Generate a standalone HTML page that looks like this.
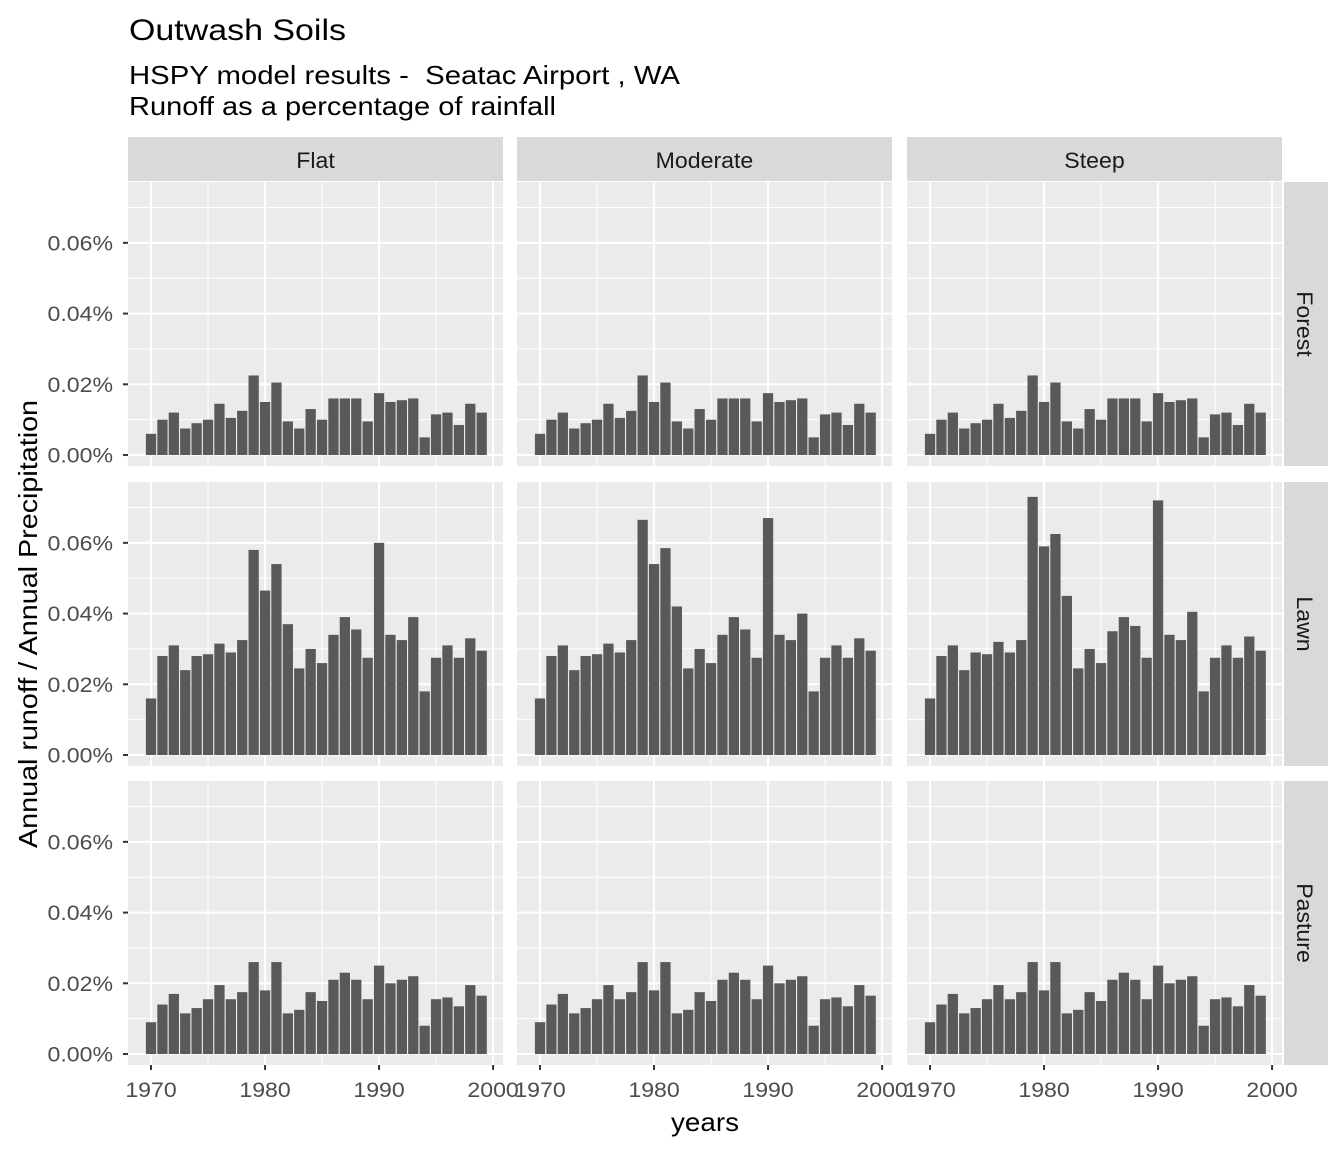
<!DOCTYPE html>
<html><head><meta charset="utf-8"><style>
body{margin:0;background:#fff;}
svg{display:block;font-family:"Liberation Sans",Arial,sans-serif;}
</style></head><body>
<svg id="chart" width="1344" height="1152" viewBox="0 0 1344 1152">
<text x="129" y="40" font-size="30" fill="#000" textLength="217" lengthAdjust="spacingAndGlyphs">Outwash Soils</text>
<text x="129" y="84" font-size="26" fill="#000" xml:space="preserve" textLength="551" lengthAdjust="spacingAndGlyphs">HSPY model results -  Seatac Airport , WA</text>
<text x="129" y="115" font-size="26" fill="#000" textLength="427" lengthAdjust="spacingAndGlyphs">Runoff as a percentage of rainfall</text>
<text x="705" y="1131" font-size="26" text-anchor="middle" textLength="68" lengthAdjust="spacingAndGlyphs">years</text>
<text transform="translate(37,624) rotate(-90)" font-size="26" text-anchor="middle" textLength="448" lengthAdjust="spacingAndGlyphs">Annual runoff / Annual Precipitation</text>
<g id="panels"></g>
</svg>
<script>
const years = [1970,1971,1972,1973,1974,1975,1976,1977,1978,1979,1980,1981,1982,1983,1984,1985,1986,1987,1988,1989,1990,1991,1992,1993,1994,1995,1996,1997,1998,1999];
const slopes = ["Flat","Moderate","Steep"];
const covers = ["Forest","Lawn","Pasture"];
const forest = [0.006,0.010,0.012,0.0075,0.009,0.010,0.0145,0.0105,0.0125,0.0225,0.015,0.0205,0.0095,0.0075,0.013,0.010,0.016,0.016,0.016,0.0095,0.0175,0.015,0.0155,0.016,0.005,0.0115,0.012,0.0085,0.0145,0.012];
const lawnFlat = [0.016,0.028,0.031,0.024,0.028,0.0285,0.0315,0.029,0.0325,0.058,0.0465,0.054,0.037,0.0245,0.030,0.026,0.034,0.039,0.0355,0.0275,0.060,0.034,0.0325,0.039,0.018,0.0275,0.031,0.0275,0.033,0.0295];
const lawnModerate = [0.016,0.028,0.031,0.024,0.028,0.0285,0.0315,0.029,0.0325,0.0665,0.054,0.0585,0.042,0.0245,0.030,0.026,0.034,0.039,0.0355,0.0275,0.067,0.034,0.0325,0.040,0.018,0.0275,0.031,0.0275,0.033,0.0295];
const lawnSteep = [0.016,0.028,0.031,0.024,0.029,0.0285,0.032,0.029,0.0325,0.073,0.059,0.0625,0.045,0.0245,0.030,0.026,0.035,0.039,0.0365,0.0275,0.072,0.034,0.0325,0.0405,0.018,0.0275,0.031,0.0275,0.0335,0.0295];
const pasture = [0.009,0.014,0.017,0.0115,0.013,0.0155,0.0195,0.0155,0.0175,0.026,0.018,0.026,0.0115,0.0125,0.0175,0.015,0.021,0.023,0.021,0.0155,0.025,0.020,0.021,0.022,0.008,0.0155,0.016,0.0135,0.0195,0.0165];
const yTicks = [0,0.02,0.04,0.06];
const yTickLabels = ["0.00%","0.02%","0.04%","0.06%"];
const xTicks = [1970,1980,1990,2000];
const seriesByCover = {Forest:[forest,forest,forest],Lawn:[lawnFlat,lawnModerate,lawnSteep],Pasture:[pasture,pasture,pasture]};

const NS="http://www.w3.org/2000/svg";
const g=document.getElementById('panels');
function el(tag,attrs,parent){const e=document.createElementNS(NS,tag);for(const k in attrs)e.setAttribute(k,attrs[k]);(parent||g).appendChild(e);return e;}
function stretch(t,f){const w=t.getComputedTextLength();t.setAttribute('textLength',(w*f).toFixed(1));t.setAttribute('lengthAdjust','spacingAndGlyphs');}
const colX=[128,517,907], panelW=375;
const rowY=[182,482,781], panelH=284;
const xMin=1967.98, xMax=2000.87;
const yMin=-0.0031, yMax=0.0772;

slopes.forEach((s,ci)=>{
  const st=el('rect',{x:colX[ci],y:137,width:panelW,height:44,fill:'#d9d9d9'});
  
  
  const t=el('text',{x:colX[ci]+panelW/2,y:168,'font-size':22,'text-anchor':'middle',fill:'#1a1a1a'});
  t.textContent=s;
  
  
  stretch(t,1.05);
});
covers.forEach((c,ri)=>{
  const st=el('rect',{x:1284,y:rowY[ri],width:44,height:panelH,fill:'#d9d9d9'});
  
  
  const cy=rowY[ri]+panelH/2;
  const t=el('text',{x:0,y:0,'font-size':22,'text-anchor':'middle',fill:'#1a1a1a',transform:`translate(1297,${cy}) rotate(90)`});
  t.textContent=c;
  
  
  stretch(t,1.05);
});

covers.forEach((c,ri)=>{
  slopes.forEach((s,ci)=>{
    const px=colX[ci], py=rowY[ri];
    const X=v=>px+(v-xMin)/(xMax-xMin)*panelW;
    const Y=v=>py+panelH-(v-yMin)/(yMax-yMin)*panelH;
    const pg=el('g',{});
    
    
    el('rect',{x:px,y:py,width:panelW,height:panelH,fill:'#ebebeb'},pg);
    for(let i=0;i<yTicks.length;i++){
      const m=yTicks[i]+0.01;
      if(m<yMax) el('line',{x1:px,x2:px+panelW,y1:Y(m),y2:Y(m),stroke:'#fff','stroke-width':1},pg);
      el('line',{x1:px,x2:px+panelW,y1:Y(yTicks[i]),y2:Y(yTicks[i]),stroke:'#fff','stroke-width':2},pg);
    }
    xTicks.forEach(v=>{
      if(v+5<xMax) el('line',{x1:X(v+5),x2:X(v+5),y1:py,y2:py+panelH,stroke:'#fff','stroke-width':1},pg);
      el('line',{x1:X(v),x2:X(v),y1:py,y2:py+panelH,stroke:'#fff','stroke-width':2},pg);
    });
    const vals=seriesByCover[c][ci];
    years.forEach((yr,i)=>{
      const b=el('rect',{x:X(yr-0.45),y:Y(vals[i]),width:X(yr+0.45)-X(yr-0.45),height:Y(0)-Y(vals[i]),fill:'#595959'},pg);
      
      
    });
    if(ci===0){
      yTicks.forEach((v,i)=>{
        el('line',{x1:px-5,x2:px,y1:Y(v),y2:Y(v),stroke:'#333','stroke-width':2});
        const t=el('text',{x:px-15,y:Y(v)+7.5,'font-size':21,'text-anchor':'end',fill:'#4d4d4d'});
        t.textContent=yTickLabels[i];
        
        
        stretch(t,1.1);
      });
    }
    if(ri===2){
      xTicks.forEach(v=>{
        el('line',{x1:X(v),x2:X(v),y1:py+panelH,y2:py+panelH+5,stroke:'#333','stroke-width':2});
        const t=el('text',{x:X(v),y:py+panelH+32,'font-size':21,'text-anchor':'middle',fill:'#4d4d4d'});
        t.textContent=String(v);
        
        
        stretch(t,1.1);
      });
    }
  });
});
</script>
</body></html>
